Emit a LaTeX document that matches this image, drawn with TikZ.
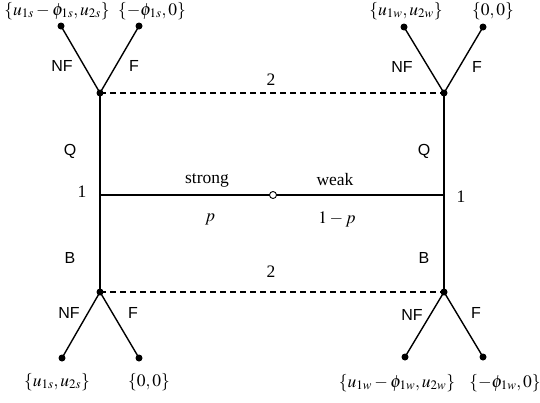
\documentclass[tikz,border=0pt]{standalone}
\usepackage{mathptmx}
\usepackage{fontspec}
\setmainfont{Liberation Serif}
\setsansfont{Liberation Sans}
\begin{document}
\begin{tikzpicture}[x=1pt,y=-1pt,
  dot/.style={circle,fill=black,inner sep=0pt,minimum size=7pt},
  odot/.style={circle,draw=black,fill=white,line width=0.9pt,inner sep=0pt,minimum size=7pt},
  edge/.style={line width=1.4pt},
  dedge/.style={line width=1.8pt,dash pattern=on 6pt off 4pt},
  slab/.style={font=\sffamily\fontsize{16}{18}\selectfont,inner sep=0pt},
  rlab/.style={font=\fontsize{17.5}{20}\selectfont,inner sep=0pt},
  pay/.style={font=\fontsize{17.5}{20}\selectfont,inner sep=0pt}]
\useasboundingbox (0,0) rectangle (540,402);
% main nodes
\node[dot] (TL) at (100,93) {};
\node[dot] (TR) at (444,93) {};
\node[dot] (BL) at (100,292) {};
\node[dot] (BR) at (444,292) {};
\coordinate (ML) at (100,195);
\coordinate (MR) at (444,195);
% leaves
\node[dot] (TLa) at (61,26) {};
\node[dot] (TLb) at (139,26) {};
\node[dot] (TRa) at (404,27) {};
\node[dot] (TRb) at (483,27) {};
\node[dot] (BLa) at (62,358) {};
\node[dot] (BLb) at (139,358) {};
\node[dot] (BRa) at (405,357) {};
\node[dot] (BRb) at (483,357) {};
% edges
\draw[edge] (TL.center) -- (BL.center);
\draw[edge] (TR.center) -- (BR.center);
\draw[edge] (ML) -- (MR);
\node[odot] (C) at (273,195) {};
\draw[dedge] (TL.center) -- (TR.center);
\draw[dedge] (BL.center) -- (BR.center);
\draw[edge] (TL.center) -- (TLa.center);
\draw[edge] (TL.center) -- (TLb.center);
\draw[edge] (TR.center) -- (TRa.center);
\draw[edge] (TR.center) -- (TRb.center);
\draw[edge] (BL.center) -- (BLa.center);
\draw[edge] (BL.center) -- (BLb.center);
\draw[edge] (BR.center) -- (BRa.center);
\draw[edge] (BR.center) -- (BRb.center);
% edge labels
\node[slab] (l1) at (62,66) {NF};
\node[slab] (l2) at (134,66) {F};
\node[slab] (l3) at (402,67) {NF};
\node[slab] (l4) at (477,67) {F};
\node[slab] (l5) at (70,151) {Q};
\node[slab] (l6) at (424,151) {Q};
\node[slab] (l7) at (70,258) {B};
\node[slab] (l8) at (424,258) {B};
\node[slab] (l9) at (69,313) {NF};
\node[slab] (l10) at (133,313) {F};
\node[slab] (l11) at (412,315) {NF};
\node[slab] (l12) at (476,313) {F};
% roman labels
\node[rlab] (n2a) at (271,80) {2};
\node[rlab] (n2b) at (271,272) {2};
\node[rlab] (n1a) at (82,192) {1};
\node[rlab] (n1b) at (461,197) {1};
\node[rlab] (st) at (207,180) {strong};
\node[rlab] (wk) at (335,180) {weak};
\node[rlab] (pp) at (210,219) {$p$};
\node[rlab] (qq) at (337,219) {$1-p$};
% payoffs
\node[pay] (p1) at (57,11) {$\{u_{1s}-\phi_{1s},u_{2s}\}$};
\node[pay] (p2) at (152,11) {$\{-\phi_{1s},0\}$};
\node[pay] (p3) at (406,11) {$\{u_{1w},u_{2w}\}$};
\node[pay] (p4) at (493,11) {$\{0,0\}$};
\node[pay] (p5) at (57,382) {$\{u_{1s},u_{2s}\}$};
\node[pay] (p6) at (149,382) {$\{0,0\}$};
\node[pay] (p7) at (397,383) {$\{u_{1w}-\phi_{1w},u_{2w}\}$};
\node[pay] (p8) at (505,383) {$\{-\phi_{1w},0\}$};
\end{tikzpicture}
\end{document}
